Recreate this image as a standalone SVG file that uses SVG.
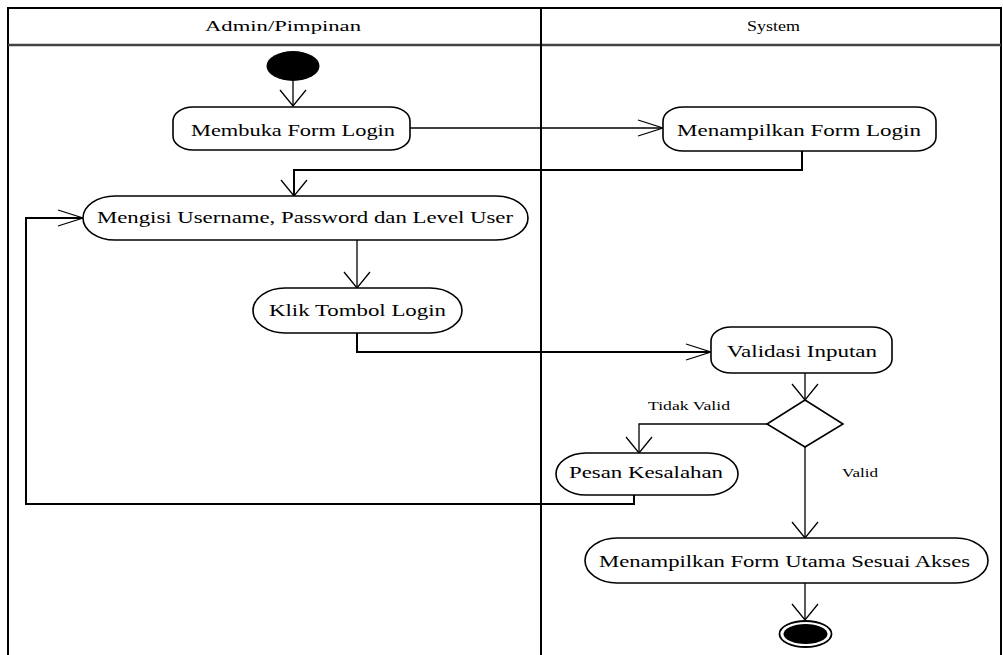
<svg xmlns="http://www.w3.org/2000/svg" width="1003" height="655" viewBox="0 0 1003 655">
<style>
  .lane { fill: none; stroke: #000; stroke-width: 2; }
  .hdr { stroke: #444; stroke-width: 2.5; }
  .node { fill: #fff; stroke: #000; stroke-width: 1.6; }
  .t { font-family: "Liberation Serif", "Times New Roman", serif; font-size: 16px; fill: #000; }
  .h { font-family: "Liberation Serif", "Times New Roman", serif; font-size: 15px; fill: #000; }
  .s { font-family: "Liberation Serif", "Times New Roman", serif; font-size: 12px; fill: #000; }
  .c { fill: none; stroke: #000; stroke-width: 1.3; }
  .c2 { fill: none; stroke: #000; stroke-width: 2; }
</style>
<defs>
  <marker id="arrV" markerUnits="userSpaceOnUse" orient="0" markerWidth="30" markerHeight="20" refX="14" refY="17" viewBox="0 0 30 20">
    <path d="M1,1 L14,17 L27,1" fill="none" stroke="#000" stroke-width="1.3"/>
  </marker>
  <marker id="arrH" markerUnits="userSpaceOnUse" orient="0" markerWidth="28" markerHeight="18" refX="26" refY="9" viewBox="0 0 28 18">
    <path d="M1,1 L26,9 L1,17" fill="none" stroke="#000" stroke-width="1.3"/>
  </marker>
</defs>
<rect width="1003" height="655" fill="#fff"/>

<g id="lanes">
  <polyline class="lane" points="8,660 8,8 1001,8 1001,660"/>
  <line class="hdr" x1="8" y1="45" x2="1001" y2="45"/>
  <line class="lane" x1="541" y1="8" x2="541" y2="660"/>
  <text class="h" x="205" y="31" textLength="156" lengthAdjust="spacingAndGlyphs">Admin/Pimpinan</text>
  <text class="h" x="747" y="31" textLength="53" lengthAdjust="spacingAndGlyphs">System</text>
</g>

<g id="connectors">
  <line class="c" x1="293" y1="81" x2="293" y2="106" marker-end="url(#arrV)"/>
  <line class="c" x1="410" y1="128" x2="663" y2="128" marker-end="url(#arrH)"/>
  <polyline class="c2" points="802,151 802,170 294,170 294,196" marker-end="url(#arrV)"/>
  <line class="c" x1="357" y1="240" x2="357" y2="288" marker-end="url(#arrV)"/>
  <polyline class="c2" points="357,333 357,352 711,352" marker-end="url(#arrH)"/>
  <line class="c" x1="805" y1="373" x2="805" y2="400" marker-end="url(#arrV)"/>
  <polyline class="c" points="767,424 639,424 639,453" marker-end="url(#arrV)"/>
  <polyline class="c2" points="634,495 634,504 26,504 26,218 83,218" marker-end="url(#arrH)"/>
  <line class="c" x1="805" y1="447" x2="805" y2="538" marker-end="url(#arrV)"/>
  <line class="c" x1="805" y1="583" x2="805" y2="620" marker-end="url(#arrV)"/>
  <text class="s" x="648" y="410" textLength="82" lengthAdjust="spacingAndGlyphs">Tidak Valid</text>
  <text class="s" x="842" y="477" textLength="36" lengthAdjust="spacingAndGlyphs">Valid</text>
</g>

<g id="start">
  <ellipse cx="293" cy="66" rx="26.5" ry="15" fill="#000"/>
</g>

<g id="membuka">
  <rect class="node" x="173" y="107" width="237" height="43" rx="20" ry="14"/>
  <text class="t" x="191" y="136" textLength="204" lengthAdjust="spacingAndGlyphs">Membuka Form Login</text>
</g>

<g id="menampilkan-login">
  <rect class="node" x="663" y="107" width="273" height="44" rx="20" ry="14"/>
  <text class="t" x="677" y="136" textLength="244" lengthAdjust="spacingAndGlyphs">Menampilkan Form Login</text>
</g>

<g id="mengisi">
  <rect class="node" x="83" y="196" width="445" height="44" rx="32" ry="22"/>
  <text class="t" x="97" y="223" textLength="416" lengthAdjust="spacingAndGlyphs">Mengisi Username, Password dan Level User</text>
</g>

<g id="klik">
  <rect class="node" x="253" y="288" width="209" height="45" rx="32" ry="22.5"/>
  <text class="t" x="269" y="316" textLength="177" lengthAdjust="spacingAndGlyphs">Klik Tombol Login</text>
</g>

<g id="validasi">
  <rect class="node" x="711" y="327" width="181" height="46" rx="20" ry="14"/>
  <text class="t" x="727" y="357" textLength="150" lengthAdjust="spacingAndGlyphs">Validasi Inputan</text>
</g>

<g id="decision">
  <polygon class="node" points="805,400 843,424 805,447 767,424"/>
</g>

<g id="pesan">
  <rect class="node" x="556" y="453" width="182" height="42" rx="30" ry="21"/>
  <text class="t" x="569" y="478" textLength="154" lengthAdjust="spacingAndGlyphs">Pesan Kesalahan</text>
</g>

<g id="form-utama">
  <rect class="node" x="585" y="538" width="403" height="45" rx="32" ry="22.5"/>
  <text class="t" x="599" y="567" textLength="371" lengthAdjust="spacingAndGlyphs">Menampilkan Form Utama Sesuai Akses</text>
</g>

<g id="end">
  <ellipse cx="805.5" cy="634" rx="26" ry="13" fill="#fff" stroke="#000" stroke-width="1.8"/>
  <ellipse cx="805.5" cy="634" rx="22" ry="10" fill="#000"/>
</g>
</svg>
